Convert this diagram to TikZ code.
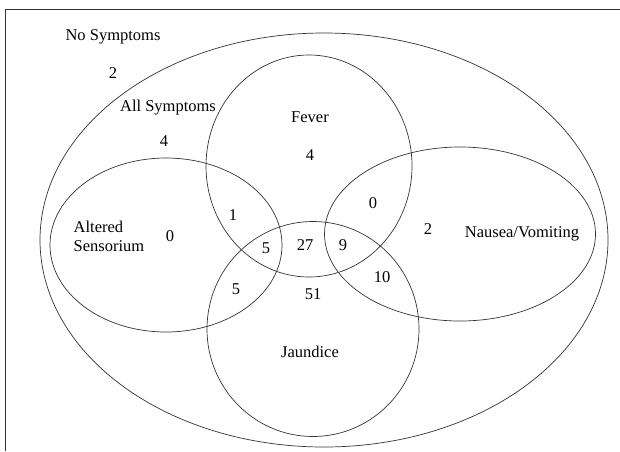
\documentclass[tikz,border=0pt]{standalone}
\usepackage{fontspec}
\setmainfont{Liberation Serif}
\usepackage{tikz}
\usetikzlibrary{shapes.geometric,positioning}
\tikzset{set/.style={draw=black!80,line width=0.7pt,ellipse,inner sep=0pt}}
\tikzset{lbl/.style={inner sep=1pt,font=\fontsize{16.5}{19}\selectfont}}

\begin{document}
\begin{tikzpicture}[x=1pt,y=-1pt,node distance=12pt]
      \useasboundingbox (0,0) rectangle (620,451);
      \draw[black!80,line width=0.7pt] (5,451) |- (620,9);

      % the sets
      \node[set,minimum width=568,minimum height=414](S) at (324,240){};
      \node[set,minimum width=206,minimum height=222](F) at (309,166){};
      \node[set,minimum width=232,minimum height=174](A) at (166,245){};
      \node[set,minimum width=271,minimum height=174](N) at (460,234){};
      \node[set,minimum width=212,minimum height=215](J) at (313,329){};

      % names
      \node[lbl](none) at (113,37){No Symptoms};
      \node[lbl](all) at (168,108){All Symptoms};
      \node[lbl](fever) at (310,117){Fever};
      \node[lbl,align=left](alt) at (109,236){Altered\\Sensorium};
      \node[lbl](naus) at (522,234){Nausea/Vomiting};
      \node[lbl](jaun) at (310,352){Jaundice};

      % counts
      \node[lbl](nNone) at (113,73){2};
      \node[lbl](nAll) at (164,141){4};
      \node[lbl](nF) at (310,155){4};
      \node[lbl](nA) at (170,236){0};
      \node[lbl](nN) at (428,229){2};
      \node[lbl](nAF) at (233,215){1};
      \node[lbl](nFN) at (373,203){0};
      \node[lbl](nAFJ) at (266,248){5};
      \node[lbl](nAFNJ) at (305,245){27};
      \node[lbl](nFNJ) at (343,245){9};
      \node[lbl](nAJ) at (236,289){5};
      \node[lbl](nJ) at (313,294){51};
      \node[lbl](nNJ) at (382,277){10};
    \end{tikzpicture}
\end{document}
